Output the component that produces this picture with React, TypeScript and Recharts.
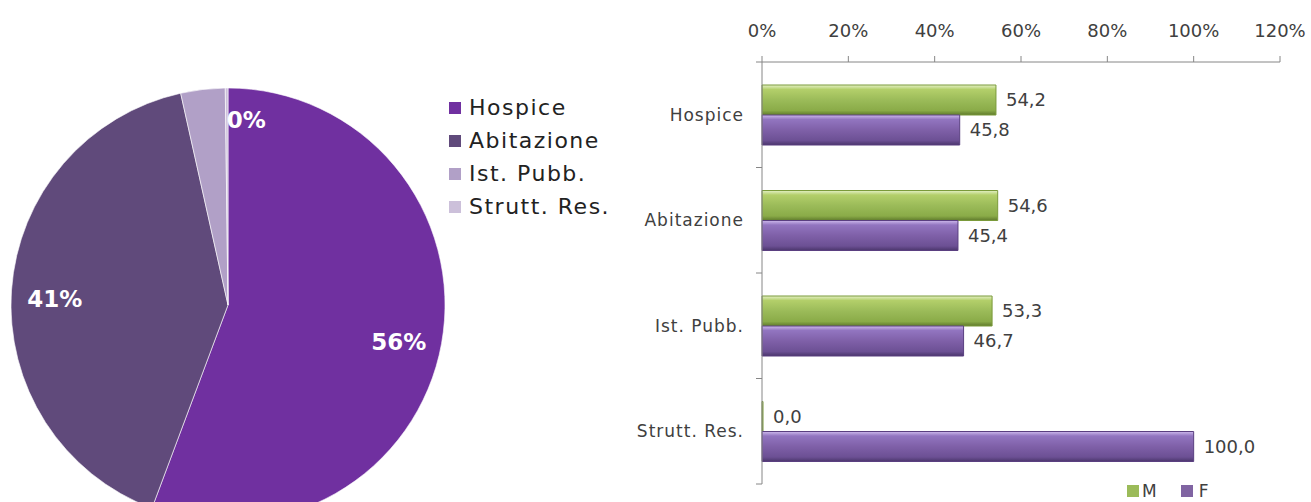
import React from 'react';
import { PieChart, Pie, Cell, BarChart, Bar, XAxis, YAxis, LabelList } from 'recharts';

// pie: share of deaths by place
const pieCategories = ['Hospice', 'Abitazione', 'Ist. Pubb.', 'Strutt. Res.'];
const pieShares = [55.7, 40.8, 3.3, 0.2];
const pieLabels = ['56%', '41%', '', '0%'];
const pieColors = ['#7030A0', '#604A7B', '#B1A0C7', '#CCC0DA'];

// bars: M / F split per place
const barCategories = ['Hospice', 'Abitazione', 'Ist. Pubb.', 'Strutt. Res.'];
const maleValues = [54.2, 54.6, 53.3, 0.0];
const femaleValues = [45.8, 45.4, 46.7, 100.0];
const xTicks = [0, 20, 40, 60, 80, 100, 120];

const pieData = pieCategories.map((name, i) => ({ name, value: pieShares[i], label: pieLabels[i] }));
const barData = barCategories.map((name, i) => ({ name, M: maleValues[i], F: femaleValues[i] }));

const FONT = '"DejaVu Sans", "Noto Sans", sans-serif';
const TEXT = '#404040';
const AXIS = '#868686';
const BAR_MARGIN = { top: 22, right: 31, bottom: 18, left: 0 };
const Y_AXIS_W = 142;

const RADIAN = Math.PI / 180;

const renderPieLabel = (props: any) => {
  const { cx, cy, midAngle, outerRadius, index } = props;
  const text = pieLabels[index];
  if (!text) return null;
  const tiny = pieShares[index] < 1;
  const r = outerRadius * (tiny ? 0.88 : 0.8);
  const x = cx + r * Math.cos(-midAngle * RADIAN);
  const y = cy + r * Math.sin(-midAngle * RADIAN);
  return (
    <text
      x={x}
      y={y + 6}
      fill="#fff"
      fontFamily={FONT}
      fontWeight="bold"
      fontSize={23}
      textAnchor={tiny ? 'start' : 'middle'}
      dominantBaseline="central"
    >
      {text}
    </text>
  );
};

const fmt = (v: any) => Number(v).toFixed(1).replace('.', ',');

const CategoryTick = (props: any) => {
  const { y, payload, index } = props;
  const axisX = BAR_MARGIN.left + Y_AXIS_W;
  const half = payload && payload.offset ? payload.offset : 0;
  return (
    <g>
      <text
        x={axisX - 18}
        y={y}
        textAnchor="end"
        dominantBaseline="central"
        fill={TEXT}
        fontFamily={FONT}
        fontSize={17}
        letterSpacing={1}
      >
        {payload.value}
      </text>
      <line x1={axisX - 6} x2={axisX} y1={y - half} y2={y - half} stroke={AXIS} />
      {index === barCategories.length - 1 && (
        <line x1={axisX - 6} x2={axisX} y1={y + half} y2={y + half} stroke={AXIS} />
      )}
    </g>
  );
};

const LegendSquare = ({ color, gap = 8 }: { color: string; gap?: number }) => (
  <span style={{ display: 'inline-block', width: 12, height: 12, background: color, marginRight: gap }} />
);

export default function App() {
  return (
    <div style={{ position: 'absolute', left: 0, top: 0, width: 1311, height: 502, background: '#fff', overflow: 'hidden' }}>
      {/* left: pie */}
      <div style={{ position: 'absolute', left: 0, top: 0 }}>
        <PieChart width={620} height={502} margin={{ top: 0, right: 0, bottom: 0, left: 0 }}>
          <Pie
            data={pieData}
            dataKey="value"
            nameKey="name"
            cx={228}
            cy={305}
            outerRadius={217}
            startAngle={90}
            endAngle={-270}
            stroke="#ffffff"
            strokeWidth={0.6}
            label={renderPieLabel}
            labelLine={false}
            isAnimationActive={false}
          >
            {pieData.map((d, i) => (
              <Cell key={d.name} fill={pieColors[i]} />
            ))}
          </Pie>
        </PieChart>
      </div>
      <div style={{ position: 'absolute', left: 449, top: 91, fontFamily: FONT, fontSize: 22, color: TEXT, letterSpacing: 1.5 }}>
        {pieCategories.map((name, i) => (
          <div key={name} style={{ height: 33, display: 'flex', alignItems: 'center', whiteSpace: 'nowrap' }}>
            <LegendSquare color={pieColors[i]} />
            <span style={{ color: '#222' }}>{name}</span>
          </div>
        ))}
      </div>

      {/* right: horizontal bars */}
      <div style={{ position: 'absolute', left: 620, top: 0 }}>
        <BarChart
          width={691}
          height={502}
          data={barData}
          layout="vertical"
          margin={BAR_MARGIN}
          barSize={30}
          barGap={0}
        >
          <defs>
            <linearGradient id="gradM" x1="0" y1="0" x2="0" y2="1">
              <stop offset="0" stopColor="#e4f0c6" />
              <stop offset="0.15" stopColor="#b3cf6a" />
              <stop offset="0.5" stopColor="#9bbb59" />
              <stop offset="0.85" stopColor="#8aab48" />
              <stop offset="1" stopColor="#5f7a2c" />
            </linearGradient>
            <linearGradient id="gradF" x1="0" y1="0" x2="0" y2="1">
              <stop offset="0" stopColor="#cdb9ec" />
              <stop offset="0.15" stopColor="#9275c0" />
              <stop offset="0.5" stopColor="#7f60a8" />
              <stop offset="0.85" stopColor="#6c5094" />
              <stop offset="1" stopColor="#4b366c" />
            </linearGradient>
          </defs>
          <XAxis
            type="number"
            orientation="top"
            domain={[0, 120]}
            ticks={xTicks}
            interval={0}
            tickFormatter={(v) => `${v}%`}
            height={40}
            tickSize={6}
            tickMargin={19}
            axisLine={{ stroke: AXIS }}
            tickLine={{ stroke: AXIS }}
            tick={{ fill: TEXT, fontSize: 18, fontFamily: FONT }}
          />
          <YAxis
            type="category"
            dataKey="name"
            width={Y_AXIS_W}
            axisLine={{ stroke: AXIS }}
            tickLine={false}
            tick={<CategoryTick />}
            interval={0}
          />
          <Bar dataKey="M" fill="url(#gradM)" stroke="#7a9a3a" strokeWidth={1} minPointSize={1} isAnimationActive={false}>
            <LabelList dataKey="M" position="right" offset={10} formatter={fmt} fill={TEXT} fontSize={18} fontFamily={FONT} />
          </Bar>
          <Bar dataKey="F" fill="url(#gradF)" stroke="#5a3f80" strokeWidth={1} isAnimationActive={false}>
            <LabelList dataKey="F" position="right" offset={10} formatter={fmt} fill={TEXT} fontSize={18} fontFamily={FONT} />
          </Bar>
        </BarChart>
      </div>
      <div style={{ position: 'absolute', left: 1127, top: 481, fontFamily: FONT, fontSize: 17, color: TEXT, display: 'flex', alignItems: 'center' }}>
        <LegendSquare color="#9bbb59" gap={3} />
        <span style={{ marginRight: 24 }}>M</span>
        <LegendSquare color="#8064a2" gap={6} />
        <span>F</span>
      </div>
    </div>
  );
}
